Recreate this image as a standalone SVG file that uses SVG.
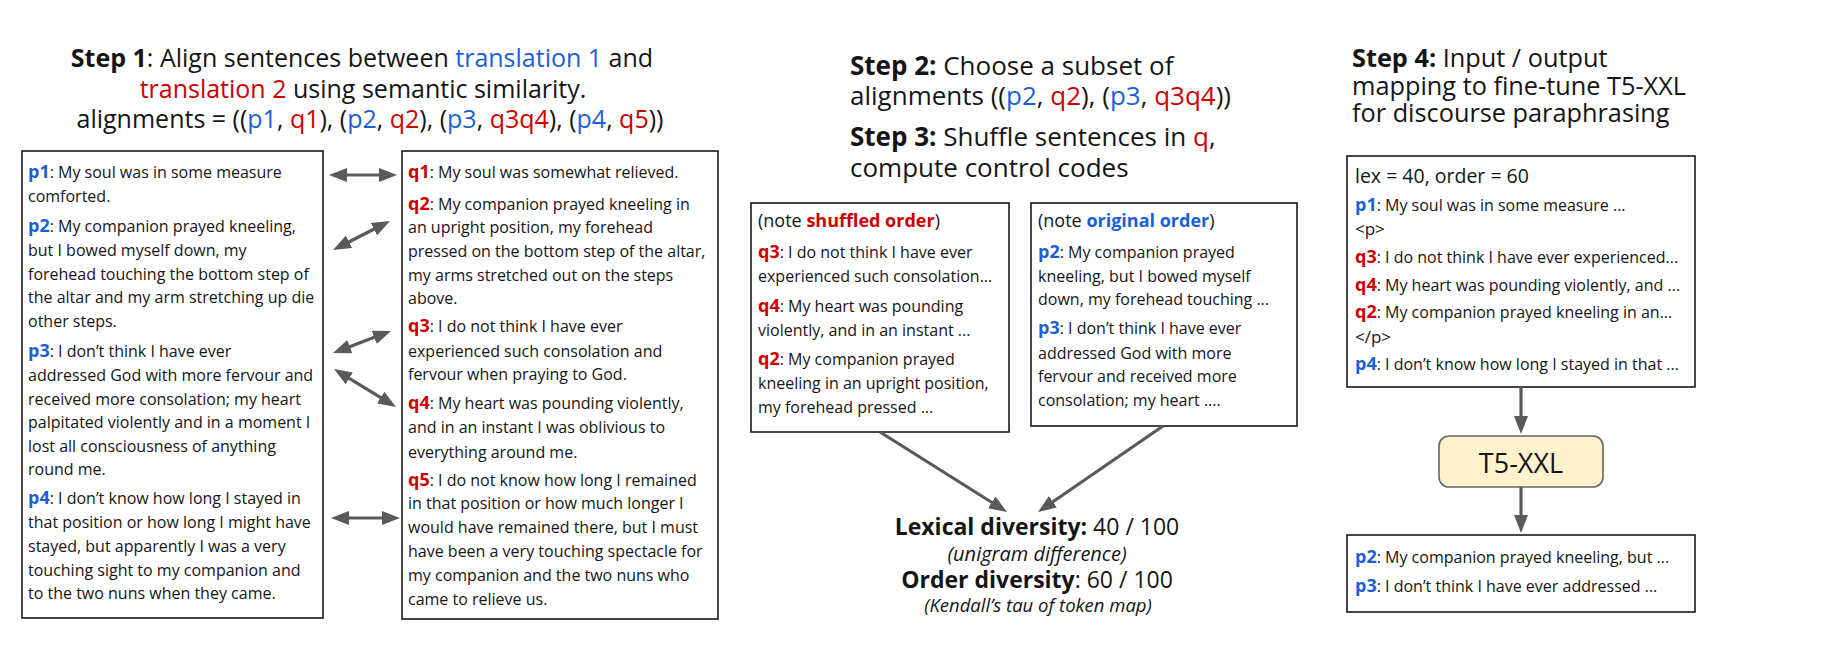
<svg xmlns="http://www.w3.org/2000/svg" width="1844" height="651" viewBox="0 0 1844 651">
<style>
text{font-family:"Open Sans","Liberation Sans",sans-serif;fill:#151515}
.h{font-size:25px}
.h2{font-size:26px}
.h4{font-size:25.3px}
.bd{font-size:16px}
.s4{font-size:16px}
.lb{font-size:18px;font-weight:700}
.bo{font-weight:700}
.bl{fill:#1c5fd4}
.rd{fill:#cc0000}
.box{fill:#fff;stroke:#1a1a1a;stroke-width:1.6}
.con{stroke:#5a5a5a;stroke-width:3.2;fill:none}
.it{font-style:italic}
</style>
<defs>
<marker id="ah" markerUnits="userSpaceOnUse" markerWidth="18" markerHeight="14" refX="3" refY="7" orient="auto-start-reverse">
<path d="M0,0 L18,7 L0,14 z" fill="#5a5a5a"/>
</marker>
</defs>
<rect width="1844" height="651" fill="#fff"/>

<g id="title1" text-anchor="middle">
<text class="h" x="362" y="67"><tspan class="bo">Step 1</tspan>: Align sentences between <tspan class="bl">translation 1</tspan> and</text>
<text class="h" x="363" y="98"><tspan class="rd">translation 2</tspan> using semantic similarity.</text>
<text class="h" x="370" y="128">alignments = ((<tspan class="bl">p1</tspan>, <tspan class="rd">q1</tspan>), (<tspan class="bl">p2</tspan>, <tspan class="rd">q2</tspan>), (<tspan class="bl">p3</tspan>, <tspan class="rd">q3q4</tspan>), (<tspan class="bl">p4</tspan>, <tspan class="rd">q5</tspan>))</text>
</g>

<g id="box-p">
<rect class="box" x="22" y="151" width="301" height="467"/>
<text class="bd" x="28" y="178"><tspan class="lb bl">p1</tspan>: My soul was in some measure</text>
<text class="bd" x="28" y="202">comforted.</text>
<text class="bd" x="28" y="232"><tspan class="lb bl">p2</tspan>: My companion prayed kneeling,</text>
<text class="bd" x="28" y="256">but I bowed myself down, my</text>
<text class="bd" x="28" y="280">forehead touching the bottom step of</text>
<text class="bd" x="28" y="303">the altar and my arm stretching up die</text>
<text class="bd" x="28" y="327">other steps.</text>
<text class="bd" x="28" y="357"><tspan class="lb bl">p3</tspan>: I don’t think I have ever</text>
<text class="bd" x="28" y="381">addressed God with more fervour and</text>
<text class="bd" x="28" y="405">received more consolation; my heart</text>
<text class="bd" x="28" y="428">palpitated violently and in a moment I</text>
<text class="bd" x="28" y="452">lost all consciousness of anything</text>
<text class="bd" x="28" y="475">round me.</text>
<text class="bd" x="28" y="504"><tspan class="lb bl">p4</tspan>: I don’t know how long I stayed in</text>
<text class="bd" x="28" y="528">that position or how long I might have</text>
<text class="bd" x="28" y="552">stayed, but apparently I was a very</text>
<text class="bd" x="28" y="576">touching sight to my companion and</text>
<text class="bd" x="28" y="599">to the two nuns when they came.</text>
</g>

<g id="box-q">
<rect class="box" x="402" y="151" width="316" height="468"/>
<text class="bd" x="408" y="178"><tspan class="lb rd">q1</tspan>: My soul was somewhat relieved.</text>
<text class="bd" x="408" y="210"><tspan class="lb rd">q2</tspan>: My companion prayed kneeling in</text>
<text class="bd" x="408" y="233">an upright position, my forehead</text>
<text class="bd" x="408" y="257">pressed on the bottom step of the altar,</text>
<text class="bd" x="408" y="281">my arms stretched out on the steps</text>
<text class="bd" x="408" y="304">above.</text>
<text class="bd" x="408" y="332"><tspan class="lb rd">q3</tspan>: I do not think I have ever</text>
<text class="bd" x="408" y="357">experienced such consolation and</text>
<text class="bd" x="408" y="380">fervour when praying to God.</text>
<text class="bd" x="408" y="409"><tspan class="lb rd">q4</tspan>: My heart was pounding violently,</text>
<text class="bd" x="408" y="433">and in an instant I was oblivious to</text>
<text class="bd" x="408" y="458">everything around me.</text>
<text class="bd" x="408" y="486"><tspan class="lb rd">q5</tspan>: I do not know how long I remained</text>
<text class="bd" x="408" y="509">in that position or how much longer I</text>
<text class="bd" x="408" y="533">would have remained there, but I must</text>
<text class="bd" x="408" y="557">have been a very touching spectacle for</text>
<text class="bd" x="408" y="581">my companion and the two nuns who</text>
<text class="bd" x="408" y="605">came to relieve us.</text>
</g>

<g id="title23">
<text class="h2" x="850" y="75"><tspan class="bo">Step 2:</tspan> Choose a subset of</text>
<text class="h2" x="850" y="105">alignments ((<tspan class="bl">p2</tspan>, <tspan class="rd">q2</tspan>), (<tspan class="bl">p3</tspan>, <tspan class="rd">q3q4</tspan>))</text>
<text class="h2" x="850" y="146"><tspan class="bo">Step 3:</tspan> Shuffle sentences in <tspan class="rd">q</tspan>,</text>
<text class="h2" x="850" y="177">compute control codes</text>
</g>

<g id="box-shuffled">
<rect class="box" x="751" y="203" width="258" height="229"/>
<text class="bd" x="758" y="227" style="font-size:18px">(note <tspan class="bo rd">shuffled order</tspan>)</text>
<text class="bd" x="758" y="258"><tspan class="lb rd">q3</tspan>: I do not think I have ever</text>
<text class="bd" x="758" y="282">experienced such consolation...</text>
<text class="bd" x="758" y="312"><tspan class="lb rd">q4</tspan>: My heart was pounding</text>
<text class="bd" x="758" y="336">violently, and in an instant ...</text>
<text class="bd" x="758" y="365"><tspan class="lb rd">q2</tspan>: My companion prayed</text>
<text class="bd" x="758" y="389">kneeling in an upright position,</text>
<text class="bd" x="758" y="413">my forehead pressed ...</text>
</g>

<g id="box-original">
<rect class="box" x="1031" y="203" width="266" height="223"/>
<text class="bd" x="1038" y="227" style="font-size:18px">(note <tspan class="bo bl">original order</tspan>)</text>
<text class="bd" x="1038" y="258"><tspan class="lb bl">p2</tspan>: My companion prayed</text>
<text class="bd" x="1038" y="282">kneeling, but I bowed myself</text>
<text class="bd" x="1038" y="305">down, my forehead touching ...</text>
<text class="bd" x="1038" y="334"><tspan class="lb bl">p3</tspan>: I don’t think I have ever</text>
<text class="bd" x="1038" y="359">addressed God with more</text>
<text class="bd" x="1038" y="382">fervour and received more</text>
<text class="bd" x="1038" y="406">consolation; my heart ....</text>
</g>

<g id="diversity" text-anchor="middle">
<text x="1037" y="535" style="font-size:23px"><tspan class="bo">Lexical diversity:</tspan> 40 / 100</text>
<text class="it" x="1037" y="561" style="font-size:20px">(unigram difference)</text>
<text x="1037" y="588" style="font-size:23px"><tspan class="bo">Order diversity</tspan>: 60 / 100</text>
<text class="it" x="1038" y="612" style="font-size:18.5px">(Kendall’s tau of token map)</text>
</g>

<g id="title4">
<text class="h4" x="1352" y="67"><tspan class="bo">Step 4:</tspan> Input / output</text>
<text class="h4" x="1352" y="95">mapping to fine-tune T5-XXL</text>
<text class="h4" x="1352" y="122">for discourse paraphrasing</text>
</g>

<g id="box-input">
<rect class="box" x="1347" y="156" width="348" height="231"/>
<text x="1355" y="183" style="font-size:19.5px">lex = 40, order = 60</text>
<text class="s4" x="1355" y="211"><tspan class="lb bl">p1</tspan>: My soul was in some measure ...</text>
<text class="s4" x="1355" y="235" style="font-size:17px">&lt;p&gt;</text>
<text class="s4" x="1355" y="263"><tspan class="lb rd">q3</tspan>: I do not think I have ever experienced...</text>
<text class="s4" x="1355" y="291"><tspan class="lb rd">q4</tspan>: My heart was pounding violently, and ...</text>
<text class="s4" x="1355" y="318"><tspan class="lb rd">q2</tspan>: My companion prayed kneeling in an...</text>
<text class="s4" x="1355" y="343" style="font-size:17px">&lt;/p&gt;</text>
<text class="s4" x="1355" y="370"><tspan class="lb bl">p4</tspan>: I don’t know how long I stayed in that ...</text>
</g>

<g id="t5">
<rect x="1439" y="436" width="164" height="51" rx="10" fill="#fff2cc" stroke="#666" stroke-width="1.6"/>
<text x="1521" y="473" text-anchor="middle" style="font-size:27px">T5-XXL</text>
</g>

<g id="box-output">
<rect class="box" x="1347" y="535" width="348" height="77"/>
<text class="s4" x="1355" y="563"><tspan class="lb bl">p2</tspan>: My companion prayed kneeling, but ...</text>
<text class="s4" x="1355" y="592"><tspan class="lb bl">p3</tspan>: I don’t think I have ever addressed ...</text>
</g>

<g id="connectors">
<line class="con" x1="344" y1="175" x2="382" y2="175" marker-start="url(#ah)" marker-end="url(#ah)"/>
<line class="con" x1="346.4" y1="243.2" x2="376.6" y2="227.8" marker-start="url(#ah)" marker-end="url(#ah)"/>
<line class="con" x1="347" y1="347.7" x2="377" y2="336.3" marker-start="url(#ah)" marker-end="url(#ah)"/>
<line class="con" x1="346.8" y1="376.8" x2="383.2" y2="399.2" marker-start="url(#ah)" marker-end="url(#ah)"/>
<line class="con" x1="346" y1="518" x2="385" y2="518" marker-start="url(#ah)" marker-end="url(#ah)"/>
<line class="con" x1="880" y1="432" x2="994.3" y2="504" marker-end="url(#ah)"/>
<line class="con" x1="1163" y1="426" x2="1050.4" y2="503.5" marker-end="url(#ah)"/>
<line class="con" x1="1521" y1="387" x2="1521" y2="419" marker-end="url(#ah)"/>
<line class="con" x1="1521" y1="487" x2="1521" y2="518" marker-end="url(#ah)"/>
</g>
</svg>
